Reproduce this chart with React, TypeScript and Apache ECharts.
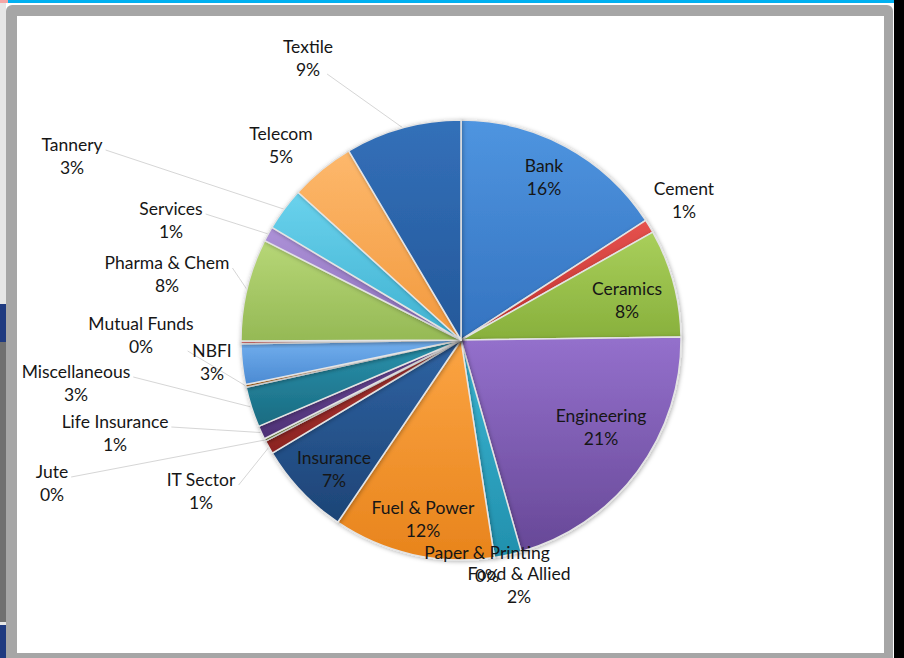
import React, { useEffect, useRef } from "react";
import * as echarts from "echarts";

const categories = [
  "Bank", "Cement", "Ceramics", "Engineering", "Food & Allied", "Fuel & Power",
  "Insurance", "IT Sector", "Jute", "Life Insurance", "Miscellaneous", "Mutual Funds",
  "NBFI", "Paper & Printing", "Pharma & Chem", "Services", "Tannery", "Telecom", "Textile",
];
const values = [16.0, 1.0, 8.0, 21.0, 2.0, 12.0, 7.0, 1.0, 0.2, 1.0, 3.0, 0.2, 3.0, 0.2, 7.6, 1.1, 3.2, 4.8, 8.6];

// gradient palette [light, dark] per slice (style, not data)
const palette: [string, string][] = [
  ["#4f95e0", "#3473c0"], ["#e5524e", "#c0302d"], ["#a9cf5b", "#88b03c"], ["#9470cc", "#674897"],
  ["#3bb6d3", "#2290ad"], ["#fba443", "#e8841c"], ["#2f63a3", "#1d4476"], ["#b53a37", "#8b2321"],
  ["#7f9e3c", "#5f7a28"], ["#6f4d9c", "#4e3176"], ["#2a93ae", "#1a6b81"], ["#d9852f", "#b0641a"],
  ["#72afee", "#4b8ad2"], ["#ee8a87", "#d46763"], ["#b7d777", "#95b955"], ["#ad92d8", "#8a6db9"],
  ["#6ad2ed", "#3fb1d0"], ["#fdb86c", "#f2993d"], ["#3370b9", "#24589a"],
];

// label block centres (layout, as placed in the reference)
const labelPositions: Record<string, [number, number]> = {
  Bank: [544, 177],
  Cement: [684, 200],
  Ceramics: [627, 300],
  Engineering: [601, 427],
  "Food & Allied": [519, 585],
  "Fuel & Power": [423, 519],
  Insurance: [334, 469],
  "IT Sector": [201, 491],
  Jute: [52, 483],
  "Life Insurance": [115, 433],
  Miscellaneous: [76, 383],
  "Mutual Funds": [141, 335],
  NBFI: [212, 362],
  "Paper & Printing": [487, 564],
  "Pharma & Chem": [167, 274],
  Services: [171, 220],
  Tannery: [72, 156],
  Telecom: [281, 145],
  Textile: [308, 58],
};

const withLeaderLine = new Set([
  "Textile", "Tannery", "Services", "Pharma & Chem", "Mutual Funds",
  "Miscellaneous", "Life Insurance", "Jute", "IT Sector",
]);

export default function App() {
  const ref = useRef<HTMLDivElement>(null);

  useEffect(() => {
    if (!ref.current) return;
    const chart = echarts.init(ref.current, undefined, { renderer: "svg" });
    const data = categories.map((name, i) => ({
      name,
      value: values[i],
      itemStyle: {
        color: new echarts.graphic.LinearGradient(0, 0, 0, 1, [
          { offset: 0, color: palette[i][0] },
          { offset: 1, color: palette[i][1] },
        ]),
      },
      labelLine: { show: withLeaderLine.has(name) },
    }));

    chart.setOption({
      animation: false,
      backgroundColor: "transparent",
      series: [
        {
          type: "pie",
          center: [461, 340],
          radius: [0, 220],
          startAngle: 90,
          clockwise: true,
          avoidLabelOverlap: false,
          silent: true,
          data,
          itemStyle: {
            borderColor: "#e4e4e4",
            borderWidth: 1.5,
            shadowBlur: 4,
            shadowColor: "rgba(0,0,0,0.3)",
            shadowOffsetX: 1,
            shadowOffsetY: 1,
          },
          label: {
            show: true,
            position: "outside",
            formatter: (p: any) => `${p.name}\n${Math.round(p.percent)}%`,
            fontFamily: "Lato",
            fontSize: 17.5,
            lineHeight: 23,
            color: "#161616",
            align: "center",
          },
          labelLine: {
            show: true,
            length: 10,
            length2: 10,
            lineStyle: { color: "#d6d6d6", width: 1 },
          },
          labelLayout: (params: any) => {
            const name = categories[params.dataIndex];
            const pos = labelPositions[name];
            if (!pos) return {};
            const [x, y] = pos;
            const res: any = { x, y, align: "center", verticalAlign: "middle" };
            const pts = params.labelLinePoints;
            if (pts && withLeaderLine.has(name)) {
              const w = params.labelRect.width;
              const start = pts[0];
              const above = start[1] - y > 40 && Math.abs(start[0] - x) < 120;
              let endX = start[0] < x ? x - w / 2 - 3 : x + w / 2 + 3;
              let endY = y - 6;
              if (above) {
                endX = x + w / 2 - 6;
                endY = y + 16;
              }
              res.labelLinePoints = [
                [start[0], start[1]],
                [(start[0] + endX) / 2, (start[1] + endY) / 2],
                [endX, endY],
              ];
            }
            return res;
          },
        },
      ],
    });
    return () => chart.dispose();
  }, []);

  const abs = (s: React.CSSProperties): React.CSSProperties => ({ position: "absolute", ...s });

  return (
    <div style={{ position: "fixed", left: 0, top: 0, width: 904, height: 658, background: "#fff", overflow: "hidden" }}>
      <div style={abs({ left: 0, top: 0, width: 6, height: 658, background: "#e6e6e6" })} />
      <div style={abs({ left: 0, top: 304, width: 6, height: 38, background: "#1f3a80" })} />
      <div style={abs({ left: 0, top: 342, width: 6, height: 280, background: "#707070" })} />
      <div style={abs({ left: 0, top: 625, width: 6, height: 33, background: "#1f3a80" })} />
      <div style={abs({ left: 0, top: 0, width: 904, height: 3, background: "#00b0f0" })} />
      <div style={abs({ left: 0, top: 0, width: 8, height: 3, background: "#f4a6a6" })} />
      <div style={abs({ left: 894, top: 0, width: 10, height: 658, background: "#000" })} />
      <div style={abs({ left: 6, top: 5, width: 887, height: 653, background: "#a6a6a6", borderRadius: "6px 6px 0 0" })} />
      <div style={abs({ left: 17, top: 16, width: 867, height: 637, background: "#fff" })} />
      <div ref={ref} style={abs({ left: 0, top: 0, width: 904, height: 658 })} />
    </div>
  );
}
